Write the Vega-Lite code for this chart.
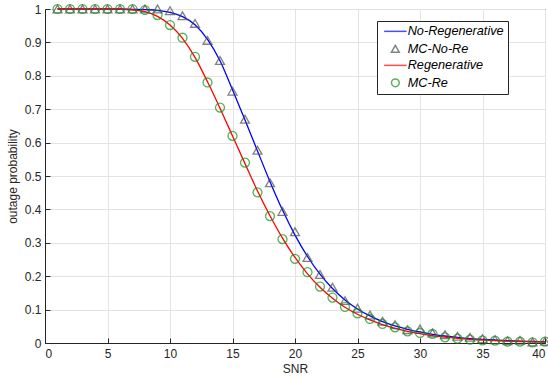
{
  "$schema": "https://vega.github.io/schema/vega-lite/v6.json",
  "width": 500,
  "height": 334,
  "autosize": "none",
  "padding": {"left": 45, "top": 9, "right": 3, "bottom": 38},
  "background": "white",
  "config": {
    "font": "Liberation Sans",
    "view": {"stroke": "#262626", "strokeWidth": 1},
    "axis": {
      "domainColor": "#262626",
      "gridColor": "#e3e3e3",
      "gridWidth": 1,
      "tickColor": "#262626",
      "tickSize": -5,
      "labelColor": "#262626",
      "labelFontSize": 12,
      "labelFont": "Liberation Sans",
      "titleFont": "Liberation Sans",
      "titleFontSize": 12,
      "titleFontWeight": "normal",
      "titleColor": "#262626"
    },
    "legend": {
      "orient": "none", "legendX": 332, "legendY": 12,
      "strokeColor": "#262626", "fillColor": "white", "padding": 4, "rowPadding": 2.5,
      "labelFontSize": 12.7, "labelFontStyle": "italic", "labelColor": "#000000", "labelFont": "Liberation Sans",
      "symbolSize": 60, "symbolStrokeWidth": 1.5, "symbolOffset": 8, "labelOffset": 6, "cornerRadius": 0
    }
  },
  "datasets": {
    "lines": [
      {"x":1,"v":1,"s":"No-Regenerative"},{"x":2,"v":1,"s":"No-Regenerative"},{"x":3,"v":1,"s":"No-Regenerative"},{"x":4,"v":1,"s":"No-Regenerative"},{"x":5,"v":1,"s":"No-Regenerative"},{"x":6,"v":1,"s":"No-Regenerative"},{"x":7,"v":0.999,"s":"No-Regenerative"},{"x":8,"v":0.998,"s":"No-Regenerative"},{"x":9,"v":0.996,"s":"No-Regenerative"},{"x":10,"v":0.99,"s":"No-Regenerative"},{"x":11,"v":0.977,"s":"No-Regenerative"},{"x":12,"v":0.953,"s":"No-Regenerative"},{"x":13,"v":0.909,"s":"No-Regenerative"},{"x":14,"v":0.845,"s":"No-Regenerative"},{"x":15,"v":0.758,"s":"No-Regenerative"},{"x":16,"v":0.668,"s":"No-Regenerative"},{"x":17,"v":0.575,"s":"No-Regenerative"},{"x":18,"v":0.483,"s":"No-Regenerative"},{"x":19,"v":0.398,"s":"No-Regenerative"},{"x":20,"v":0.323,"s":"No-Regenerative"},{"x":21,"v":0.259,"s":"No-Regenerative"},{"x":22,"v":0.206,"s":"No-Regenerative"},{"x":23,"v":0.163,"s":"No-Regenerative"},{"x":24,"v":0.129,"s":"No-Regenerative"},{"x":25,"v":0.102,"s":"No-Regenerative"},{"x":26,"v":0.081,"s":"No-Regenerative"},{"x":27,"v":0.064,"s":"No-Regenerative"},{"x":28,"v":0.051,"s":"No-Regenerative"},{"x":29,"v":0.041,"s":"No-Regenerative"},{"x":30,"v":0.033,"s":"No-Regenerative"},{"x":31,"v":0.026,"s":"No-Regenerative"},{"x":32,"v":0.021,"s":"No-Regenerative"},{"x":33,"v":0.017,"s":"No-Regenerative"},{"x":34,"v":0.013,"s":"No-Regenerative"},{"x":35,"v":0.011,"s":"No-Regenerative"},{"x":36,"v":0.009,"s":"No-Regenerative"},{"x":37,"v":0.007,"s":"No-Regenerative"},{"x":38,"v":0.0055,"s":"No-Regenerative"},{"x":39,"v":0.0045,"s":"No-Regenerative"},{"x":40,"v":0.0035,"s":"No-Regenerative"},
      {"x":1,"v":1,"s":"Regenerative"},{"x":2,"v":1,"s":"Regenerative"},{"x":3,"v":1,"s":"Regenerative"},{"x":4,"v":1,"s":"Regenerative"},{"x":5,"v":1,"s":"Regenerative"},{"x":6,"v":0.999,"s":"Regenerative"},{"x":7,"v":0.997,"s":"Regenerative"},{"x":8,"v":0.992,"s":"Regenerative"},{"x":9,"v":0.978,"s":"Regenerative"},{"x":10,"v":0.952,"s":"Regenerative"},{"x":11,"v":0.912,"s":"Regenerative"},{"x":12,"v":0.855,"s":"Regenerative"},{"x":13,"v":0.782,"s":"Regenerative"},{"x":14,"v":0.703,"s":"Regenerative"},{"x":15,"v":0.62,"s":"Regenerative"},{"x":16,"v":0.537,"s":"Regenerative"},{"x":17,"v":0.455,"s":"Regenerative"},{"x":18,"v":0.381,"s":"Regenerative"},{"x":19,"v":0.314,"s":"Regenerative"},{"x":20,"v":0.256,"s":"Regenerative"},{"x":21,"v":0.207,"s":"Regenerative"},{"x":22,"v":0.167,"s":"Regenerative"},{"x":23,"v":0.134,"s":"Regenerative"},{"x":24,"v":0.107,"s":"Regenerative"},{"x":25,"v":0.086,"s":"Regenerative"},{"x":26,"v":0.069,"s":"Regenerative"},{"x":27,"v":0.055,"s":"Regenerative"},{"x":28,"v":0.044,"s":"Regenerative"},{"x":29,"v":0.035,"s":"Regenerative"},{"x":30,"v":0.028,"s":"Regenerative"},{"x":31,"v":0.022,"s":"Regenerative"},{"x":32,"v":0.018,"s":"Regenerative"},{"x":33,"v":0.014,"s":"Regenerative"},{"x":34,"v":0.011,"s":"Regenerative"},{"x":35,"v":0.009,"s":"Regenerative"},{"x":36,"v":0.007,"s":"Regenerative"},{"x":37,"v":0.0056,"s":"Regenerative"},{"x":38,"v":0.0045,"s":"Regenerative"},{"x":39,"v":0.0036,"s":"Regenerative"},{"x":40,"v":0.0028,"s":"Regenerative"}
    ],
    "mc": [
      {"x":1,"v":1,"s":"MC-No-Re"},{"x":2,"v":1,"s":"MC-No-Re"},{"x":3,"v":1,"s":"MC-No-Re"},{"x":4,"v":1,"s":"MC-No-Re"},{"x":5,"v":1,"s":"MC-No-Re"},{"x":6,"v":1,"s":"MC-No-Re"},{"x":7,"v":1,"s":"MC-No-Re"},{"x":8,"v":1,"s":"MC-No-Re"},{"x":9,"v":1,"s":"MC-No-Re"},{"x":10,"v":0.995,"s":"MC-No-Re"},{"x":11,"v":0.98,"s":"MC-No-Re"},{"x":12,"v":0.957,"s":"MC-No-Re"},{"x":13,"v":0.906,"s":"MC-No-Re"},{"x":14,"v":0.846,"s":"MC-No-Re"},{"x":15,"v":0.754,"s":"MC-No-Re"},{"x":16,"v":0.67,"s":"MC-No-Re"},{"x":17,"v":0.577,"s":"MC-No-Re"},{"x":18,"v":0.48,"s":"MC-No-Re"},{"x":19,"v":0.394,"s":"MC-No-Re"},{"x":20,"v":0.333,"s":"MC-No-Re"},{"x":21,"v":0.256,"s":"MC-No-Re"},{"x":22,"v":0.205,"s":"MC-No-Re"},{"x":23,"v":0.167,"s":"MC-No-Re"},{"x":24,"v":0.127,"s":"MC-No-Re"},{"x":25,"v":0.104,"s":"MC-No-Re"},{"x":26,"v":0.084,"s":"MC-No-Re"},{"x":27,"v":0.065,"s":"MC-No-Re"},{"x":28,"v":0.055,"s":"MC-No-Re"},{"x":29,"v":0.04,"s":"MC-No-Re"},{"x":30,"v":0.042,"s":"MC-No-Re"},{"x":31,"v":0.03,"s":"MC-No-Re"},{"x":32,"v":0.025,"s":"MC-No-Re"},{"x":33,"v":0.02,"s":"MC-No-Re"},{"x":34,"v":0.017,"s":"MC-No-Re"},{"x":35,"v":0.013,"s":"MC-No-Re"},{"x":36,"v":0.01,"s":"MC-No-Re"},{"x":37,"v":0.007,"s":"MC-No-Re"},{"x":38,"v":0.008,"s":"MC-No-Re"},{"x":39,"v":0.003,"s":"MC-No-Re"},{"x":40,"v":0.005,"s":"MC-No-Re"},
      {"x":1,"v":1,"s":"MC-Re"},{"x":2,"v":1,"s":"MC-Re"},{"x":3,"v":1,"s":"MC-Re"},{"x":4,"v":1,"s":"MC-Re"},{"x":5,"v":1,"s":"MC-Re"},{"x":6,"v":1,"s":"MC-Re"},{"x":7,"v":1,"s":"MC-Re"},{"x":8,"v":0.997,"s":"MC-Re"},{"x":9,"v":0.982,"s":"MC-Re"},{"x":10,"v":0.952,"s":"MC-Re"},{"x":11,"v":0.914,"s":"MC-Re"},{"x":12,"v":0.857,"s":"MC-Re"},{"x":13,"v":0.78,"s":"MC-Re"},{"x":14,"v":0.705,"s":"MC-Re"},{"x":15,"v":0.62,"s":"MC-Re"},{"x":16,"v":0.54,"s":"MC-Re"},{"x":17,"v":0.451,"s":"MC-Re"},{"x":18,"v":0.38,"s":"MC-Re"},{"x":19,"v":0.311,"s":"MC-Re"},{"x":20,"v":0.252,"s":"MC-Re"},{"x":21,"v":0.212,"s":"MC-Re"},{"x":22,"v":0.169,"s":"MC-Re"},{"x":23,"v":0.136,"s":"MC-Re"},{"x":24,"v":0.108,"s":"MC-Re"},{"x":25,"v":0.089,"s":"MC-Re"},{"x":26,"v":0.072,"s":"MC-Re"},{"x":27,"v":0.057,"s":"MC-Re"},{"x":28,"v":0.047,"s":"MC-Re"},{"x":29,"v":0.035,"s":"MC-Re"},{"x":30,"v":0.03,"s":"MC-Re"},{"x":31,"v":0.027,"s":"MC-Re"},{"x":32,"v":0.017,"s":"MC-Re"},{"x":33,"v":0.013,"s":"MC-Re"},{"x":34,"v":0.01,"s":"MC-Re"},{"x":35,"v":0.008,"s":"MC-Re"},{"x":36,"v":0.007,"s":"MC-Re"},{"x":37,"v":0.004,"s":"MC-Re"},{"x":38,"v":0.004,"s":"MC-Re"},{"x":39,"v":0.002,"s":"MC-Re"},{"x":40,"v":0.004,"s":"MC-Re"}
    ]
  },
  "encoding": {
    "x": {"field": "x", "type": "quantitative", "title": "SNR",
      "scale": {"domain": [0, 40], "nice": false},
      "axis": {"values": [0,5,10,15,20,25,30,35,40], "labelPadding": 10, "titlePadding": 4}},
    "y": {"field": "v", "type": "quantitative", "title": "outage probability",
      "scale": {"domain": [0, 1], "nice": false},
      "axis": {"values": [0,0.1,0.2,0.3,0.4,0.5,0.6,0.7,0.8,0.9,1], "format": "~g", "labelPadding": 9, "titlePadding": 5}},
    "color": {"field": "s", "type": "nominal",
      "scale": {"domain": ["No-Regenerative","MC-No-Re","Regenerative","MC-Re"], "range": ["#0000ff","#4d4d4d","#ff0000","#139013"]},
      "legend": {"title": null}}
  },
  "layer": [
    {"data": {"name": "lines"},
     "mark": {"type": "line", "interpolate": "monotone", "strokeWidth": 1.3},
     "encoding": {"detail": {"field": "s"}}},
    {"data": {"name": "mc"},
     "mark": {"type": "point", "filled": false, "size": 80, "strokeWidth": 1.3},
     "encoding": {"shape": {"field": "s", "type": "nominal",
       "scale": {"domain": ["No-Regenerative","MC-No-Re","Regenerative","MC-Re"], "range": ["M-2.9,0H2.9","triangle-up","M-2.9,0H2.9","circle"]},
       "legend": {"title": null}}}}
  ]
}
